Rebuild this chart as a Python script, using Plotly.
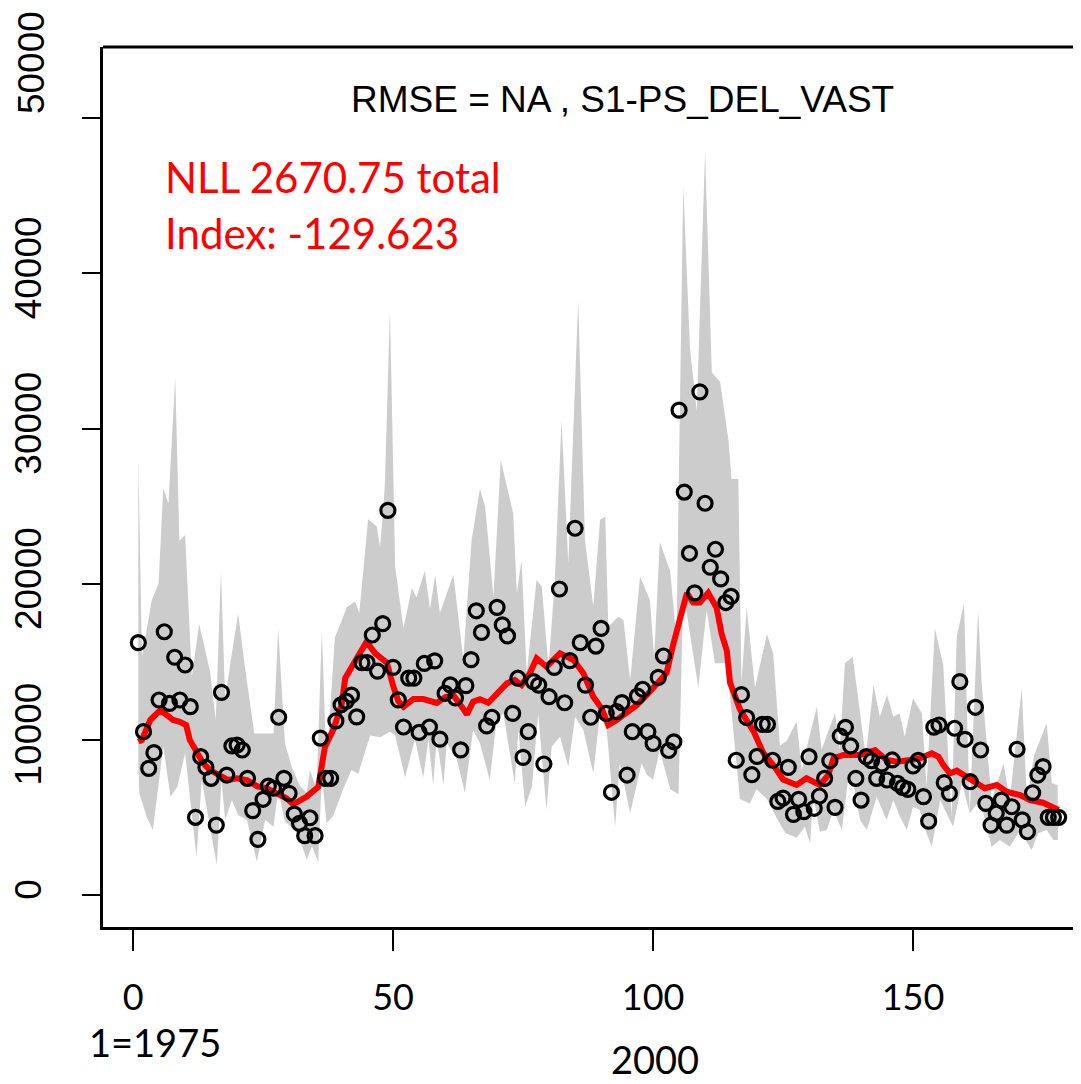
import plotly.graph_objects as go

# ---------------- data ----------------
obs_index = list(range(1, 179))
obs_value = [
    16240, 10510, 8150, 9160, 12550, 16940, 12330, 15300, 12550, 14800,
    12120, 5000, 8900, 8220, 7510, 4500, 13040, 7720, 9590, 9650,
    9330, 7510, 5430, 3580, 6160, 7010, 6870, 11440, 7510, 6540,
    5210, 4610, 3820, 4970, 3820, 10100, 7510, 7510, 11200, 12240,
    12480, 12860, 11460, 14950, 14950, 16730, 14410, 17460, 24750, 14650,
    12560, 10810, 13960, 13960, 10460, 14900, 10810, 15070, 10030, 12980,
    13520, 12680, 9340, 13470, 15150, 18290, 16900, 10880, 11440, 18510,
    17380, 16670, 11690, 13950, 8860, 10510, 13730, 13510, 8430, 12760,
    14650, 19690, 12370, 15080, 23600, 16240, 13510, 11440, 16020, 17160,
    11690, 6610, 11800, 12380, 7720, 10510, 12800, 13240, 10510, 9760,
    14000, 15380, 9300, 9860, 31200, 25930, 21990, 19440, 32380, 25210,
    21090, 22250, 20340, 18820, 19220, 8670, 12890, 11420, 7740, 8920,
    10980, 10980, 8670, 6020, 6240, 8210, 5190, 6160, 5360, 8900,
    5580, 6370, 7510, 8640, 5640, 10230, 10790, 9590, 7510, 6110,
    8900, 8640, 7510, 8430, 7400, 8690, 7190, 6930, 6800, 8300,
    8660, 6330, 4750, 10800, 10940, 7230, 6540, 10730, 13730, 10020,
    7290, 12080, 9330, 5900, 4500, 5260, 6110, 4500, 5680, 9380,
    4830, 4070, 6580, 7720, 8260, 5000, 5000, 5000,
]

fit_index = [
    1.0, 1.7, 3.3, 5.2, 6.5, 7.7, 9.0, 10.2, 10.9, 12.2, 13.5, 14.8, 16.7, 18.3,
    19.9, 21.9, 23.8, 25.7, 27.6, 29.5, 30.8, 33.4, 35.6, 36.3, 36.9, 38.5, 40.1,
    40.8, 41.7, 43.0, 44.9, 46.5, 48.8, 50.0, 51.0, 52.0, 53.9, 55.8, 58.4, 60.0,
    61.6, 63.2, 64.2, 65.4, 66.7, 68.3, 69.9, 71.9, 73.4, 74.7, 76.3, 77.6, 79.5,
    82.1, 83.4, 84.7, 86.6, 88.5, 90.1, 91.4, 93.0, 94.9, 96.9, 98.8, 100.0,
    102.6, 103.9, 105.2, 106.5, 107.7, 109.0, 110.6, 112.2, 113.2, 114.2, 114.8,
    116.7, 119.3, 121.2, 123.1, 125.0, 127.6, 129.5, 132.1, 133.7, 134.7, 136.6,
    139.8, 142.7, 144.9, 146.9, 149.4, 151.3, 153.6, 154.9, 155.8, 157.1, 158.4,
    160.3, 162.2, 163.8, 166.1, 168.0, 170.6, 172.5, 175.0, 177.6, 178.0,
]
fit_value = [
    9870, 9980, 11260, 11900, 11580, 11260, 11150, 10940, 9980, 9120, 8470, 8040,
    7720, 7400, 7510, 7400, 7010, 6870, 6540, 6220, 5840, 6330, 6950, 8550, 9530,
    10640, 12240, 13960, 14450, 15190, 16300, 15570, 14950, 13470, 12480, 12120,
    12610, 12610, 12360, 12730, 12860, 12120, 11620, 12440, 12600, 12370, 12980,
    13620, 13840, 13510, 14270, 15230, 14690, 15550, 15330, 15120, 14270, 12760,
    12010, 10940, 11260, 11690, 12230, 12870, 13360, 14290, 16160, 17720, 19440,
    18820, 18820, 19440, 18500, 16790, 15690, 13670, 11950, 10550, 9140, 8370,
    7430, 7080, 7510, 7080, 7720, 8800, 9010, 9010, 9330, 8690, 8580, 8690, 8800,
    9120, 8900, 8370, 7830, 8000, 7610, 7290, 6870, 7080, 6650, 6430, 6110, 5940,
    5580, 5470,
]

upper_index = [
    1.0, 1.7, 3.6, 4.9, 5.8, 6.8, 8.1, 8.9, 10.0, 11.3, 12.7, 14.8, 15.9, 16.9,
    17.7, 18.6, 20.2, 21.5, 23.3, 25.0, 27.0, 27.9, 29.2, 30.5, 32.1, 33.4, 34.0,
    35.3, 36.3, 37.2, 38.8, 40.4, 41.1, 42.7, 43.5, 45.2, 46.9, 47.5, 48.4, 49.4,
    50.4, 52.0, 53.6, 54.5, 56.1, 57.1, 58.1, 59.0, 61.6, 63.5, 65.1, 66.7, 67.7,
    69.3, 70.7, 73.1, 73.8, 74.7, 75.7, 77.6, 78.6, 79.9, 81.1, 82.4, 83.7, 85.6,
    86.9, 88.5, 89.8, 90.8, 91.4, 93.3, 94.3, 95.6, 97.5, 99.4, 100.2, 101.3,
    103.3, 104.5, 105.8, 107.1, 108.4, 110.0, 111.3, 112.9, 114.5, 115.1, 116.4,
    117.0, 118.0, 119.6, 121.9, 123.1, 124.4, 125.7, 127.6, 128.6, 129.9, 131.5,
    132.4, 134.0, 135.0, 135.9, 136.9, 138.4, 139.5, 140.9, 142.4, 143.6, 145.0,
    146.2, 147.4, 148.4, 150.0, 151.7, 152.6, 154.2, 155.8, 157.4, 158.4, 159.8,
    160.9, 162.5, 163.2, 165.1, 167.4, 168.6, 170.9, 171.9, 173.3, 175.7, 176.7,
    177.8,
]
upper_value = [
    28200, 15330, 18980, 20050, 26170, 25200, 33330, 22800, 23170, 14050, 17440,
    14380, 11260, 20870, 12550, 14690, 18130, 14690, 10400, 10400, 10400, 17160,
    9760, 8260, 7000, 6580, 8050, 6820, 17040, 8300, 16550, 17900, 18520, 18890,
    18150, 24180, 23690, 22340, 26270, 37700, 21110, 17160, 19750, 19140, 20860,
    18400, 20610, 18150, 20610, 15190, 22830, 26150, 24990, 19190, 27990, 24560,
    19410, 21560, 14270, 20270, 19840, 14690, 20270, 30570, 21340, 38290, 22840,
    18550, 24130, 24340, 17270, 17910, 17700, 13840, 20500, 18970, 15330, 22720,
    20840, 16470, 45640, 35190, 31140, 47820, 33630, 33010, 29270, 26770, 26770,
    13670, 18500, 13360, 16790, 15540, 9610, 9920, 11170, 8040, 9970, 12120,
    9330, 10830, 11690, 9330, 14910, 15330, 12550, 8900, 13510, 11470, 12870,
    11470, 11690, 10190, 12660, 11690, 6970, 17160, 14800, 5040, 16620, 18770,
    5260, 18340, 13620, 6110, 8470, 6110, 13300, 6110, 9010, 11050, 7190, 7080,
]

lower_index = [
    1.0, 1.2, 2.6, 3.8, 5.8, 7.2, 8.5, 10.0, 12.2, 13.2, 16.1, 17.0, 17.7, 19.0,
    20.2, 21.9, 23.8, 25.4, 27.0, 27.9, 29.2, 31.5, 33.4, 34.4, 35.6, 36.3, 37.2,
    38.5, 40.4, 42.0, 43.3, 44.9, 45.6, 47.5, 49.4, 50.4, 52.3, 54.2, 55.8, 56.8,
    57.7, 58.4, 59.7, 60.3, 62.2, 63.8, 65.4, 66.7, 68.6, 69.9, 71.2, 73.4, 74.1,
    75.4, 76.7, 77.9, 79.5, 80.5, 82.1, 83.7, 85.0, 86.6, 88.5, 89.8, 91.1, 92.7,
    93.6, 95.6, 97.8, 98.8, 100.0, 101.3, 103.3, 104.9, 105.8, 108.7, 110.3,
    111.9, 114.2, 116.7, 118.6, 119.9, 121.9, 123.8, 125.4, 127.6, 129.2, 130.2,
    130.8, 132.1, 133.4, 134.7, 136.3, 137.5, 138.5, 139.8, 141.1, 143.0, 144.9,
    146.2, 147.5, 148.8, 150.0, 151.3, 152.6, 153.6, 155.2, 157.7, 159.4, 160.9,
    162.9, 165.1, 166.7, 168.6, 170.6, 172.8, 174.1, 175.7, 177.0, 177.9,
]
lower_value = [
    8500, 6540, 5040, 4180, 9540, 6330, 6970, 9120, 2460, 7400, 1930, 7400, 4830,
    6110, 5150, 4830, 2140, 4830, 4400, 6760, 4720, 4110, 2270, 3130, 2140, 7810,
    4610, 5100, 6820, 8050, 7810, 9530, 10270, 10150, 10510, 10270, 7560, 10030,
    7560, 10030, 7070, 10030, 7070, 9780, 8790, 6580, 10620, 9760, 7400, 11260,
    11690, 7190, 10620, 5680, 6970, 11690, 5470, 9540, 10190, 8260, 11470, 10620,
    7830, 11690, 10620, 4400, 8470, 5260, 8470, 7740, 7430, 9300, 6810, 6490,
    19590, 13360, 18350, 14920, 14920, 6180, 5870, 6810, 6180, 4940, 4000, 3690,
    4400, 3330, 6330, 4070, 4180, 5470, 4180, 7400, 7190, 4830, 4180, 6330, 4830,
    6110, 5040, 4180, 5680, 5470, 3970, 3110, 6110, 4400, 7190, 5260, 6110, 3110,
    3540, 3110, 4180, 2900, 3970, 4180, 3540, 3540,
]

x_tick_values = [0, 50, 100, 150]
x_tick_labels = ["0", "50", "100", "150"]
y_tick_values = [0, 10000, 20000, 30000, 40000, 50000]
# the top label is drawn separately because it sits above its tick in the reference
y_tick_labels = ["0", "10000", "20000", "30000", "40000", ""]
y_top_label = "50000"

title_text = "RMSE = NA , S1-PS_DEL_VAST"
nll_text = "NLL 2670.75 total"
index_text = "Index: -129.623"
first_year_text = "1=1975"
marker_year_text = "2000"

# ---------------- figure ----------------
fig = go.Figure()

band_x = upper_index + lower_index[::-1]
band_y = upper_value + lower_value[::-1]
fig.add_trace(go.Scatter(
    x=band_x, y=band_y, mode="lines", fill="toself",
    fillcolor="#CCCCCC", line=dict(width=0, color="#CCCCCC"),
    hoverinfo="skip", showlegend=False,
))

fig.add_trace(go.Scatter(
    x=fit_index, y=fit_value, mode="lines",
    line=dict(color="#FF0000", width=6),
    showlegend=False,
))

fig.add_trace(go.Scatter(
    x=obs_index, y=obs_value, mode="markers",
    marker=dict(symbol="circle-open", size=14, color="black",
                line=dict(width=3.2, color="black")),
    showlegend=False,
))

# the page adds an 8px body margin, so the figure is laid out 8px up/left
fig.update_layout(
    width=1073, height=1076,
    margin=dict(l=95, r=0, t=39, b=157, autoexpand=False),
    paper_bgcolor="white", plot_bgcolor="white",
    showlegend=False,
)

fig.update_xaxes(
    range=[-5.79, 182.3], automargin=False,
    tickvals=x_tick_values, ticktext=x_tick_labels,
    ticks="outside", ticklen=21, tickwidth=2, tickcolor="black",
    showline=True, linecolor="black", linewidth=3,
    showgrid=False, zeroline=False,
    tickfont=dict(family="Lato, Liberation Sans, sans-serif", size=36, color="black"),
    ticklabelstandoff=16,
)
fig.update_yaxes(
    range=[-2059, 54569], automargin=False,
    tickvals=y_tick_values, ticktext=y_tick_labels,
    ticks="outside", ticklen=18, tickwidth=2, tickcolor="black",
    showline=True, linecolor="black", linewidth=3,
    showgrid=False, zeroline=False, tickangle=-90,
    tickfont=dict(family="Liberation Sans, Arial, sans-serif", size=37, color="black"),
    ticklabelstandoff=26,
)

# top edge of the plot box
fig.add_shape(type="line", xref="paper", yref="paper", x0=0, x1=1, y0=1, y1=1,
              line=dict(color="black", width=3))

fig.add_annotation(text=y_top_label, xref="paper", yref="paper",
                   x=-0.0736, y=0.9818, xanchor="center", yanchor="middle",
                   textangle=-90, showarrow=False,
                   font=dict(family="Liberation Sans, Arial, sans-serif", size=37, color="black"))
fig.add_annotation(text=title_text, xref="paper", yref="paper",
                   x=0.5307, y=0.9398, xanchor="center", yanchor="middle",
                   showarrow=False,
                   font=dict(family="Liberation Sans, Arial, sans-serif", size=37, color="black"))
fig.add_annotation(text=nll_text, xref="paper", yref="paper",
                   x=0.0613, y=0.852, xanchor="left", yanchor="middle",
                   showarrow=False,
                   font=dict(family="Lato, sans-serif", size=42, color="#FF0000"))
fig.add_annotation(text=index_text, xref="paper", yref="paper",
                   x=0.0613, y=0.789, xanchor="left", yanchor="middle",
                   showarrow=False,
                   font=dict(family="Lato, sans-serif", size=42, color="#FF0000"))
fig.add_annotation(text=first_year_text, xref="paper", yref="paper",
                   x=0.0532, y=-0.131, xanchor="center", yanchor="middle",
                   showarrow=False,
                   font=dict(family="Lato, sans-serif", size=38, color="black"))
fig.add_annotation(text=marker_year_text, xref="paper", yref="paper",
                   x=0.5644, y=-0.150, xanchor="center", yanchor="middle",
                   showarrow=False,
                   font=dict(family="Lato, sans-serif", size=38, color="black"))

fig.write_html("out.html")
